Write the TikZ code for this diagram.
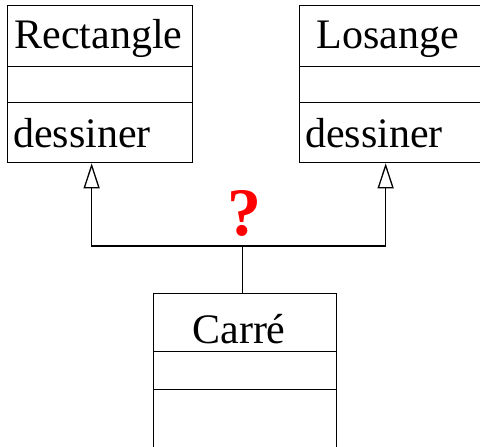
\documentclass[tikz,border=0pt]{standalone}
\usepackage{fontspec}
\setmainfont{Liberation Serif}
\usetikzlibrary{arrows.meta}
\tikzset{gentip/.tip={Triangle[open,length=25pt,width=16pt,line width=1.3pt]}}
\begin{document}
\begin{tikzpicture}[x=1pt,y=-1pt,
  comp/.style={draw, line width=1.3pt, anchor=north west, inner sep=0pt},
  lbl/.style={font=\fontsize{42}{48}\selectfont, inner sep=0pt},
  conn/.style={draw, line width=1.3pt},
  qmark/.style={font=\fontsize{68}{70}\selectfont\bfseries, text=red, inner sep=0pt}
]
\useasboundingbox (0,0) rectangle (480,447);
\clip (0,0) rectangle (480,447);

% class Rectangle
\node[comp, minimum width=185pt, minimum height=61pt] (rname) at (7,5) {};
\node[comp, minimum width=185pt, minimum height=36pt] (rattr) at (7,66) {};
\node[comp, minimum width=185pt, minimum height=60pt] (rmeth) at (7,102) {};
\node[lbl, anchor=base] (rtitle) at (98.5,48) {Rectangle};
\node[lbl, anchor=base west] (rop) at (13,147) {dessiner};

% class Losange
\node[comp, minimum width=185pt, minimum height=61pt] (lname) at (299,5) {};
\node[comp, minimum width=185pt, minimum height=36pt] (lattr) at (299,66) {};
\node[comp, minimum width=185pt, minimum height=60pt] (lmeth) at (299,102) {};
\node[lbl, anchor=base] (ltitle) at (388,48) {Losange};
\node[lbl, anchor=base west] (lop) at (305,147) {dessiner};

% class Carré
\node[comp, minimum width=183pt, minimum height=58pt] (cname) at (153,293) {};
\node[comp, minimum width=183pt, minimum height=38pt] (cattr) at (153,351) {};
\node[comp, minimum width=183pt, minimum height=80pt] (cmeth) at (153,389) {};
\node[lbl, anchor=base] (ctitle) at (239,343) {Carré};

% generalisation links
\coordinate (j) at ([xshift=-2.5pt,yshift=47pt]cname.north);
\coordinate (rtip) at ([xshift=-8.5pt]rmeth.south);
\coordinate (ltip) at ([xshift=-6.5pt]lmeth.south);
\coordinate (rbend) at (rtip |- j);
\coordinate (lbend) at (ltip |- j);
\draw[conn] (cname.north -| j) -- (j);
\draw[conn, gentip-gentip] (rtip) -- (rbend) -- (lbend) -- (ltip);

\node[qmark, anchor=base] (q) at (244,235) {?};
\end{tikzpicture}
\end{document}
